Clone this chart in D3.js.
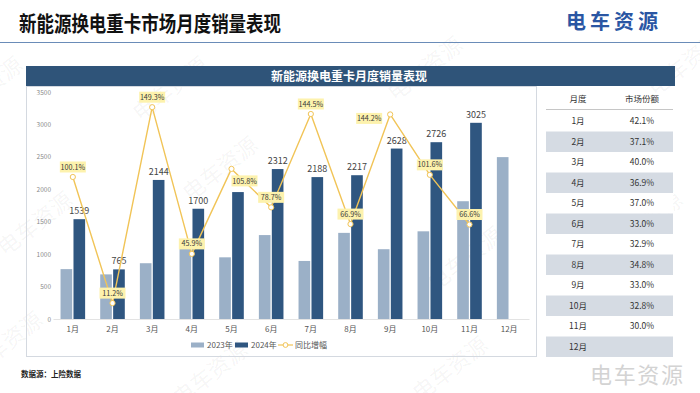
<!DOCTYPE html>
<html>
<head>
<meta charset="utf-8">
<script src="https://cdn.jsdelivr.net/npm/d3@7"></script>
<style>
  html, body { margin: 0; padding: 0; background: #fff; }
  svg { display: block; font-family: "Noto Sans CJK SC", "Noto Sans", sans-serif; }
</style>
</head>
<body>
<svg id="chart" width="700" height="393"></svg>
<script>
// 월별 데이터
const months = ["1月", "2月", "3月", "4月", "5月", "6月", "7月", "8月", "9月", "10月", "11月", "12月"];
const sales2023 = [769, 688, 860, 1165, 951, 1294, 895, 1328, 1076, 1352, 1816, 2496];
const sales2024 = [1539, 765, 2144, 1700, 1957, 2312, 2188, 2217, 2628, 2726, 3025, null];
const growth = [100.1, 11.2, 149.3, 45.9, 105.8, 78.7, 144.5, 66.9, 144.2, 101.6, 66.6, null];
const growthLabelPos = ["top", "top", "top", "top", "right", "top", "top", "top", "left", "top", "top", null];
const hiddenValueMonths = ["5月"]; // 원본에서 라벨에 가려진 값
const shareText = ["42.1%", "37.1%", "40.0%", "36.9%", "37.0%", "33.0%", "32.9%", "34.8%", "33.0%", "32.8%", "30.0%", ""];
const yTicks = [0, 500, 1000, 1500, 2000, 2500, 3000, 3500];

const config = {
	color: { light: "#9bb0c7", dark: "#2f5680", line: "#f1c457", labelBg: "#fdf2ad", header: "#2f5479" },
	plot: { left: 53, right: 529, top: 92, bottom: 319 }
};

const svg = d3.select("#chart");

/**
 * 배경 워터마크
 */
function drawWatermark() {
	const marks = [
		[-10, 95], [175, 95], [430, 75], [690, 70],
		[40, 230], [225, 175], [470, 265], [650, 230],
		[10, 350], [215, 380], [455, 375]
	];
	svg.append("g").selectAll("text")
		.data(marks)
		.join("text")
		.attr("transform", d => `translate(${d[0]},${d[1]}) rotate(-38)`)
		.attr("text-anchor", "middle")
		.attr("font-size", 22)
		.attr("fill", "#000")
		.attr("fill-opacity", 0.05)
		.text("电车资源");
}

/**
 * 상단 제목, 로고, 하단 출처
 */
function drawFrame() {
	svg.append("text")
		.attr("x", 19).attr("y", 31)
		.attr("font-size", 21).attr("font-weight", "bold").attr("fill", "#111")
		.attr("textLength", 262).attr("lengthAdjust", "spacingAndGlyphs")
		.text("新能源换电重卡市场月度销量表现");

	svg.append("text")
		.attr("x", 566).attr("y", 29)
		.attr("font-size", 20).attr("font-weight", "bold").attr("fill", "#2a56a3")
		.attr("textLength", 92)
		.text("电车资源");

	svg.append("line")
		.attr("x1", 0).attr("x2", 700).attr("y1", 42.5).attr("y2", 42.5)
		.attr("stroke", "#6a8cb8").attr("stroke-width", 1);

	// chart box + header bar
	svg.append("rect")
		.attr("x", 26.5).attr("y", 86.5).attr("width", 510).attr("height", 270)
		.attr("fill", "none").attr("stroke", "#d4d9e0").attr("stroke-width", 1);

	svg.append("rect")
		.attr("x", 26).attr("y", 66).attr("width", 649).attr("height", 20)
		.attr("fill", config.color.header);

	svg.append("text")
		.attr("x", 349).attr("y", 80.5)
		.attr("text-anchor", "middle")
		.attr("font-size", 12).attr("font-weight", "bold").attr("fill", "#fff")
		.text("新能源换电重卡月度销量表现");

	svg.append("text")
		.attr("x", 21).attr("y", 377)
		.attr("font-size", 7.5).attr("font-weight", "bold").attr("fill", "#222")
		.text("数据源：上险数据");

	svg.append("text")
		.attr("x", 590).attr("y", 383)
		.attr("font-size", 22).attr("fill", "#d3d3d3")
		.attr("textLength", 93)
		.text("电车资源");
}

/**
 * 막대 + 꺾은선 차트
 */
function drawChart() {
	const p = config.plot;

	const x = d3.scaleBand().domain(months).range([p.left, p.right]).padding(0);
	const groupW = x.bandwidth() * 0.62;
	const xs = d3.scaleBand().domain(["2023", "2024"]).range([0, groupW]).paddingInner(0.1);
	const y = d3.scaleLinear().domain([0, 3500]).range([p.bottom, p.top]);
	const y2 = d3.scaleLinear().domain([0, 160]).range([p.bottom, p.top]);

	// Y axis
	svg.append("g")
		.attr("transform", `translate(${p.left - 2},0)`)
		.call(d3.axisLeft(y).tickValues(yTicks).tickFormat(d3.format("d")).tickSize(0).tickPadding(0))
		.call(g => g.select(".domain").remove())
		.call(g => g.selectAll("text")
			.attr("font-family", "Noto Sans CJK SC, sans-serif")
			.attr("font-size", 6.5).attr("fill", "#8a8a8a"));

	// X axis
	svg.append("g")
		.attr("transform", `translate(0,${p.bottom})`)
		.call(d3.axisBottom(x).tickSize(0).tickPadding(7))
		.call(g => g.select(".domain").attr("stroke", "#e3e3e3"))
		.call(g => g.selectAll("text")
			.attr("font-family", "Noto Sans CJK SC, sans-serif")
			.attr("font-size", 8).attr("fill", "#555"));

	const rows = months.map((m, i) => ({ m, a: sales2023[i], b: sales2024[i], g: growth[i], pos: growthLabelPos[i] }));
	const gx = m => x(m) + (x.bandwidth() - groupW) / 2;

	// bars
	svg.append("g").selectAll("rect")
		.data(rows)
		.join("rect")
		.attr("x", d => gx(d.m) + xs("2023"))
		.attr("y", d => y(d.a))
		.attr("width", xs.bandwidth())
		.attr("height", d => y(0) - y(d.a))
		.attr("fill", config.color.light);

	const r24 = rows.filter(d => d.b != null);
	svg.append("g").selectAll("rect")
		.data(r24)
		.join("rect")
		.attr("x", d => gx(d.m) + xs("2024"))
		.attr("y", d => y(d.b))
		.attr("width", xs.bandwidth())
		.attr("height", d => y(0) - y(d.b))
		.attr("fill", config.color.dark);

	svg.append("g").selectAll("text")
		.data(r24.filter(d => !hiddenValueMonths.includes(d.m)))
		.join("text")
		.attr("x", d => gx(d.m) + xs("2024") + xs.bandwidth() / 2)
		.attr("y", d => y(d.b) - 5)
		.attr("text-anchor", "middle")
		.attr("font-size", 9).attr("fill", "#444")
		.text(d => d.b);

	// growth line
	const rg = rows.filter(d => d.g != null);
	const cx = d => x(d.m) + x.bandwidth() / 2;
	const line = d3.line().x(cx).y(d => y2(d.g));

	svg.append("path")
		.datum(rg)
		.attr("fill", "none")
		.attr("stroke", config.color.line)
		.attr("stroke-width", 1.4)
		.attr("stroke-linejoin", "round")
		.attr("d", line);

	svg.append("g").selectAll("circle")
		.data(rg)
		.join("circle")
		.attr("cx", cx)
		.attr("cy", d => y2(d.g))
		.attr("r", 2.6)
		.attr("fill", "#fff")
		.attr("stroke", config.color.line)
		.attr("stroke-width", 1);

	// growth labels
	const lab = svg.append("g").selectAll("g")
		.data(rg)
		.join("g")
		.attr("transform", d => {
			const px = cx(d), py = y2(d.g);
			if (d.pos === "right") return `translate(${px + 13},${py + 12})`;
			if (d.pos === "left") return `translate(${px - 21},${py + 4})`;
			return `translate(${px},${py - 10})`;
		});

	lab.append("rect")
		.attr("x", -13).attr("y", -5.5)
		.attr("width", 26).attr("height", 11)
		.attr("fill", config.color.labelBg);

	lab.append("text")
		.attr("y", 2.6)
		.attr("text-anchor", "middle")
		.attr("font-size", 7.2).attr("fill", "#3a3a3a")
		.text(d => d.g.toFixed(1) + "%");

	// legend
	const lg = svg.append("g").attr("transform", "translate(191,345)");
	lg.append("rect").attr("x", 0).attr("y", -2.5).attr("width", 13).attr("height", 5).attr("fill", config.color.light);
	lg.append("text").attr("x", 16).attr("y", 3).attr("font-size", 8).attr("fill", "#555").text("2023年");
	lg.append("rect").attr("x", 44).attr("y", -2.5).attr("width", 13).attr("height", 5).attr("fill", config.color.dark);
	lg.append("text").attr("x", 60).attr("y", 3).attr("font-size", 8).attr("fill", "#555").text("2024年");
	lg.append("line").attr("x1", 87).attr("x2", 102).attr("y1", 0).attr("y2", 0).attr("stroke", config.color.line).attr("stroke-width", 1.2);
	lg.append("circle").attr("cx", 94.5).attr("cy", 0).attr("r", 2.4).attr("fill", "#fff").attr("stroke", config.color.line);
	lg.append("text").attr("x", 104).attr("y", 3).attr("font-size", 8).attr("fill", "#555").text("同比增幅");
}

/**
 * 오른쪽 시장점유율 표
 */
function drawTable() {
	const left = 546, right = 673, top0 = 111, rowH = 20.5;
	const col1 = 578, col2 = 642;

	svg.append("text").attr("x", col1).attr("y", 102).attr("text-anchor", "middle")
		.attr("font-size", 8.5).attr("fill", "#333").text("月度");
	svg.append("text").attr("x", col2).attr("y", 102).attr("text-anchor", "middle")
		.attr("font-size", 8.5).attr("fill", "#333").text("市场份额");
	svg.append("line").attr("x1", left).attr("x2", right).attr("y1", 109.5).attr("y2", 109.5)
		.attr("stroke", "#b8b8b8").attr("stroke-width", 0.8);

	const tr = svg.append("g").selectAll("g")
		.data(months.map((m, i) => ({ m, s: shareText[i], i })))
		.join("g")
		.attr("transform", d => `translate(0,${top0 + d.i * rowH})`);

	tr.append("rect")
		.attr("x", left).attr("y", 0)
		.attr("width", right - left).attr("height", rowH)
		.attr("fill", d => d.i % 2 === 1 ? "#d5dbe3" : "#fff");

	tr.append("text").attr("x", col1).attr("y", rowH / 2 + 3.2).attr("text-anchor", "middle")
		.attr("font-size", 8.5).attr("fill", "#333").text(d => d.m);
	tr.append("text").attr("x", col2).attr("y", rowH / 2 + 3.2).attr("text-anchor", "middle")
		.attr("font-size", 8.5).attr("fill", "#333").text(d => d.s);
}

drawWatermark();
drawFrame();
drawChart();
drawTable();
</script>
</body>
</html>
